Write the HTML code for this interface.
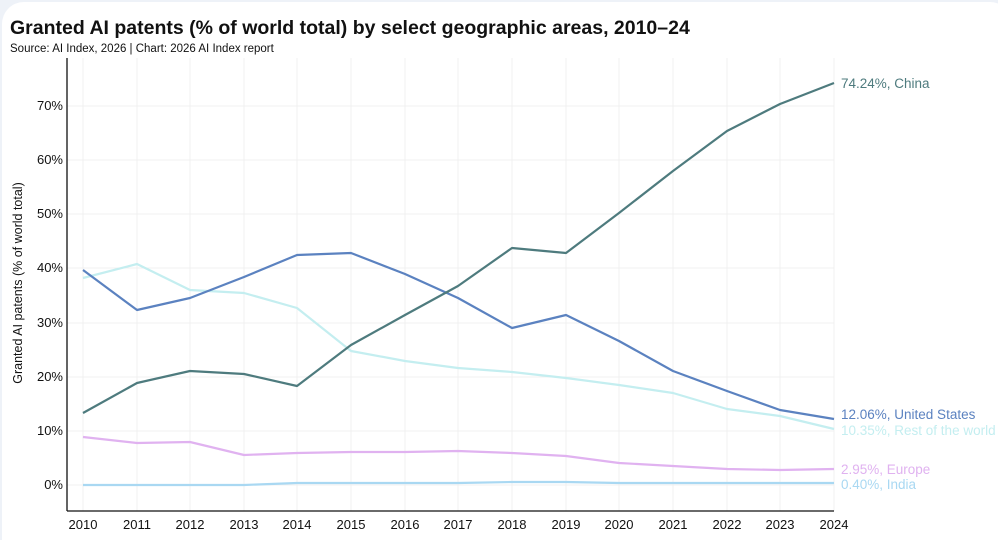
<!DOCTYPE html>
<html><head><meta charset="utf-8"><style>
body{margin:0;background:#fff;width:998px;height:540px;overflow:hidden;font-family:"Liberation Sans",sans-serif}
</style></head><body>
<svg width="998" height="540" xmlns="http://www.w3.org/2000/svg" font-family="Liberation Sans, sans-serif">
<rect x="0" y="0" width="998" height="540" fill="#eef2f8"/>
<rect x="2" y="2" width="1010" height="560" rx="22" fill="#fff"/>
<text x="10" y="34" font-size="19.5" font-weight="bold" fill="#111">Granted AI patents (% of world total) by select geographic areas, 2010–24</text>
<text x="10" y="52" font-size="11.5" fill="#111">Source: AI Index, 2026 | Chart: 2026 AI Index report</text>
<g stroke="#f0f0f0" stroke-width="1">
<line x1="83" y1="58" x2="83" y2="511"/><line x1="137" y1="58" x2="137" y2="511"/><line x1="190" y1="58" x2="190" y2="511"/><line x1="244" y1="58" x2="244" y2="511"/><line x1="297" y1="58" x2="297" y2="511"/><line x1="351" y1="58" x2="351" y2="511"/><line x1="405" y1="58" x2="405" y2="511"/><line x1="458" y1="58" x2="458" y2="511"/><line x1="512" y1="58" x2="512" y2="511"/><line x1="566" y1="58" x2="566" y2="511"/><line x1="619" y1="58" x2="619" y2="511"/><line x1="673" y1="58" x2="673" y2="511"/><line x1="727" y1="58" x2="727" y2="511"/><line x1="780" y1="58" x2="780" y2="511"/><line x1="834" y1="58" x2="834" y2="511"/>
<line x1="67" y1="106" x2="834" y2="106"/><line x1="67" y1="160" x2="834" y2="160"/><line x1="67" y1="214" x2="834" y2="214"/><line x1="67" y1="268" x2="834" y2="268"/><line x1="67" y1="323" x2="834" y2="323"/><line x1="67" y1="377" x2="834" y2="377"/><line x1="67" y1="431" x2="834" y2="431"/><line x1="67" y1="485" x2="834" y2="485"/>
</g>
<line x1="67" y1="58" x2="67" y2="511" stroke="#111" stroke-width="1.3"/>
<line x1="67" y1="511" x2="834" y2="511" stroke="#111" stroke-width="1.3"/>
<g font-size="13" fill="#111" text-anchor="end">
<text x="63" y="110">70%</text><text x="63" y="164">60%</text><text x="63" y="218">50%</text><text x="63" y="272">40%</text><text x="63" y="327">30%</text><text x="63" y="381">20%</text><text x="63" y="435">10%</text><text x="63" y="489">0%</text>
</g>
<g font-size="13" fill="#111" text-anchor="middle">
<text x="83" y="529">2010</text><text x="137" y="529">2011</text><text x="190" y="529">2012</text><text x="244" y="529">2013</text><text x="297" y="529">2014</text><text x="351" y="529">2015</text><text x="405" y="529">2016</text><text x="458" y="529">2017</text><text x="512" y="529">2018</text><text x="566" y="529">2019</text><text x="619" y="529">2020</text><text x="673" y="529">2021</text><text x="727" y="529">2022</text><text x="780" y="529">2023</text><text x="834" y="529">2024</text>
</g>
<text transform="translate(22,283) rotate(-90)" font-size="12.5" fill="#111" text-anchor="middle">Granted AI patents (% of world total)</text>
<g fill="none" stroke-width="2.2" stroke-linejoin="round">
<polyline stroke="#a9d8f2" points="83,485 137,485 190,485 244,485 297,483 351,483 405,483 458,483 512,482 566,482 619,483 673,483 727,483 780,483 834,483"/>
<polyline stroke="#e0b2f0" points="83,437 137,443 190,442 244,455 297,453 351,452 405,452 458,451 512,453 566,456 619,463 673,466 727,469 780,470 834,469"/>
<polyline stroke="#c4eef0" points="83,278 137,264 190,290 244,293 297,308 351,351 405,361 458,368 512,372 566,378 619,385 673,393 727,409 780,416 834,429"/>
<polyline stroke="#5b82c0" points="83,270 137,310 190,298 244,277 297,255 351,253 405,274 458,298 512,328 566,315 619,341 673,371 727,391 780,410 834,419"/>
<polyline stroke="#4e7b7e" points="83,413 137,383 190,371 244,374 297,386 351,345 405,315 458,286 512,248 566,253 619,213 673,171 727,131 780,104 834,83"/>
</g>
<g font-size="13.5">
<text x="841" y="88" fill="#4e7b7e">74.24%, China</text>
<text x="841" y="419" fill="#5b82c0">12.06%, United States</text>
<text x="841" y="435" fill="#c4eef0">10.35%, Rest of the world</text>
<text x="841" y="474" fill="#e0b2f0">2.95%, Europe</text>
<text x="841" y="489" fill="#a9d8f2">0.40%, India</text>
</g>
</svg>
</body></html>
